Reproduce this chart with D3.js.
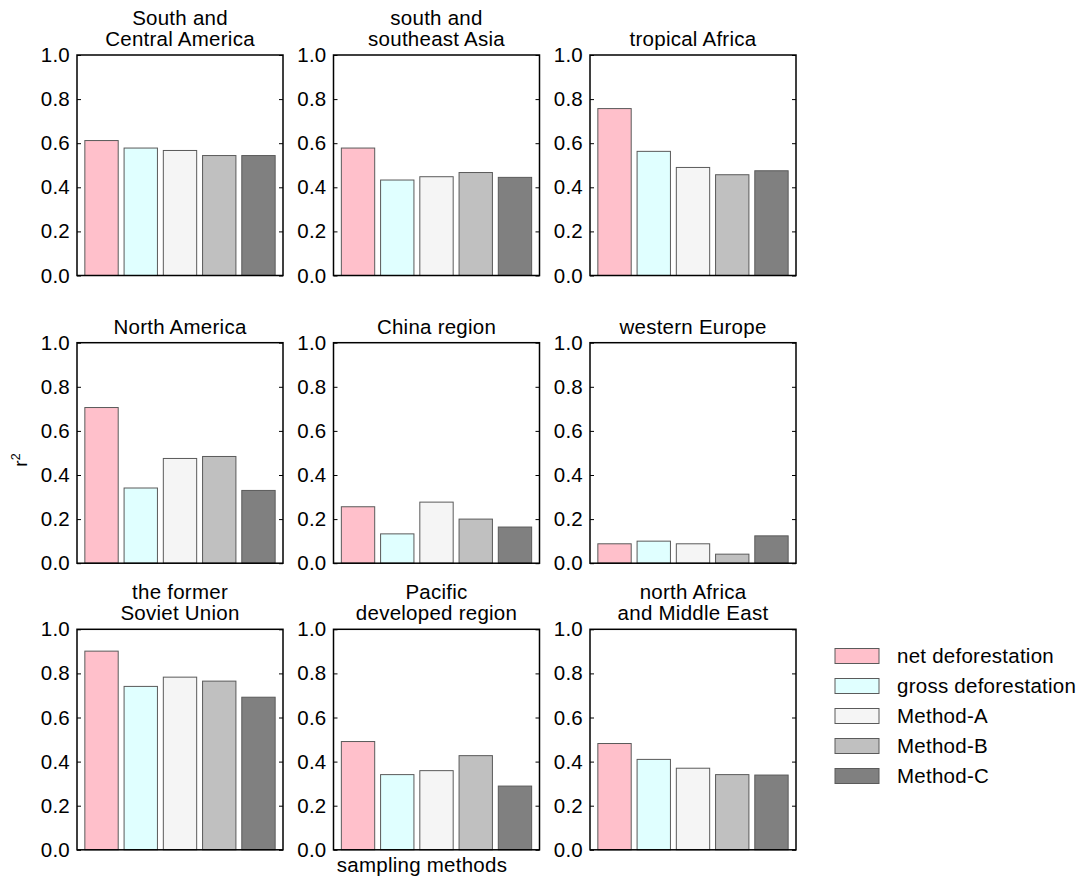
<!DOCTYPE html>
<html>
<head>
<meta charset="utf-8">
<script src="https://cdn.jsdelivr.net/npm/d3@7"></script>
<style>
  html, body { margin: 0; padding: 0; background: #fff; }
  svg { display: block; font-family: "Liberation Sans", Arial, Helvetica, sans-serif; }
</style>
</head>
<body>
<svg id="chart" width="1083" height="882"></svg>
<script>
// ---- data ----
const seriesNames = ["net deforestation", "gross deforestation", "Method-A", "Method-B", "Method-C"];
const seriesColors = ["#ffc0cb", "#e0ffff", "#f5f5f5", "#c0c0c0", "#808080"];
const regionTitles = [
  ["South and", "Central America"],
  ["south and", "southeast Asia"],
  ["tropical Africa"],
  ["North America"],
  ["China region"],
  ["western Europe"],
  ["the former", "Soviet Union"],
  ["Pacific", "developed region"],
  ["north Africa", "and Middle East"]
];
const southCentralAmerica = [0.612, 0.578, 0.567, 0.544, 0.544];
const southSoutheastAsia  = [0.578, 0.433, 0.448, 0.467, 0.445];
const tropicalAfrica      = [0.757, 0.563, 0.490, 0.457, 0.475];
const northAmerica        = [0.706, 0.341, 0.475, 0.484, 0.330];
const chinaRegion         = [0.256, 0.133, 0.277, 0.200, 0.164];
const westernEurope       = [0.088, 0.100, 0.088, 0.041, 0.124];
const formerSovietUnion   = [0.901, 0.741, 0.783, 0.765, 0.692];
const pacificDeveloped    = [0.491, 0.341, 0.359, 0.427, 0.289];
const northAfricaMidEast  = [0.482, 0.410, 0.370, 0.341, 0.339];
const regionValues = [southCentralAmerica, southSoutheastAsia, tropicalAfrica,
  northAmerica, chinaRegion, westernEurope, formerSovietUnion, pacificDeveloped, northAfricaMidEast];
const yTicks = [0, 0.2, 0.4, 0.6, 0.8, 1.0];
const yLabel = "r";
const xLabel = "sampling methods";

// ---- layout ----
const svg = d3.select("#chart");
const colLefts = [77, 333.5, 590];
const rowTops = [55, 342.7, 629.3];
const pw = 206, ph = 220.5;
const fontTick = 20.5, fontTitle = 20.5, ls = "0.25px";

const x = d3.scaleBand().domain(d3.range(5)).range([0, pw]).paddingInner(0.15).paddingOuter(0.2);
const y = d3.scaleLinear().domain([0, 1]).range([ph, 0]);

regionValues.forEach((vals, k) => {
  const r = Math.floor(k / 3), c = k % 3;
  const g = svg.append("g").attr("transform", `translate(${colLefts[c]},${rowTops[r]})`);

  g.selectAll("rect.bar").data(vals).join("rect")
    .attr("class", "bar")
    .attr("x", (d, i) => x(i))
    .attr("width", x.bandwidth())
    .attr("y", d => y(d))
    .attr("height", d => ph - y(d))
    .attr("fill", (d, i) => seriesColors[i])
    .attr("stroke", "#5a5a5a")
    .attr("stroke-width", 1);

  const left = g.append("g").call(d3.axisLeft(y).tickValues(yTicks).tickSize(-4).tickPadding(7).tickFormat(d3.format(".1f")));
  left.select(".domain").remove();
  left.selectAll("text").attr("font-size", fontTick).attr("fill", "#000").attr("font-family", null)
    .attr("letter-spacing", ls);
  left.selectAll("line").attr("stroke", "#000");

  const right = g.append("g").attr("transform", `translate(${pw},0)`)
    .call(d3.axisRight(y).tickValues(yTicks).tickSize(-4).tickFormat(""));
  right.select(".domain").remove();
  right.selectAll("line").attr("stroke", "#000");

  g.append("rect").attr("x", 0).attr("y", 0).attr("width", pw).attr("height", ph)
    .attr("fill", "none").attr("stroke", "#000").attr("stroke-width", 1.5);

  const lines = regionTitles[k];
  lines.forEach((t, j) => {
    g.append("text")
      .attr("x", pw / 2)
      .attr("y", -9 - (lines.length - 1 - j) * 21.5)
      .attr("text-anchor", "middle")
      .attr("font-size", fontTitle)
      .attr("letter-spacing", ls)
      .text(t);
  });
});

// y label
const yl = svg.append("text")
  .attr("transform", "translate(27,460) rotate(-90)")
  .attr("text-anchor", "middle")
  .attr("font-size", 19);
yl.append("tspan").text(yLabel);
yl.append("tspan").attr("font-size", 12.5).attr("dy", -7).text("2");

// x label
svg.append("text").attr("x", 422).attr("y", 872).attr("text-anchor", "middle")
  .attr("font-size", fontTitle).attr("letter-spacing", ls).text(xLabel);

// legend
const lg = svg.append("g").attr("transform", "translate(835,656)");
seriesNames.forEach((s, i) => {
  lg.append("rect").attr("x", 0).attr("y", i * 30 - 7.5).attr("width", 44).attr("height", 15)
    .attr("fill", seriesColors[i]).attr("stroke", "#5a5a5a").attr("stroke-width", 1);
  lg.append("text").attr("x", 62).attr("y", i * 30).attr("dy", "0.35em")
    .attr("font-size", fontTitle).attr("letter-spacing", ls).text(s);
});
</script>
</body>
</html>
